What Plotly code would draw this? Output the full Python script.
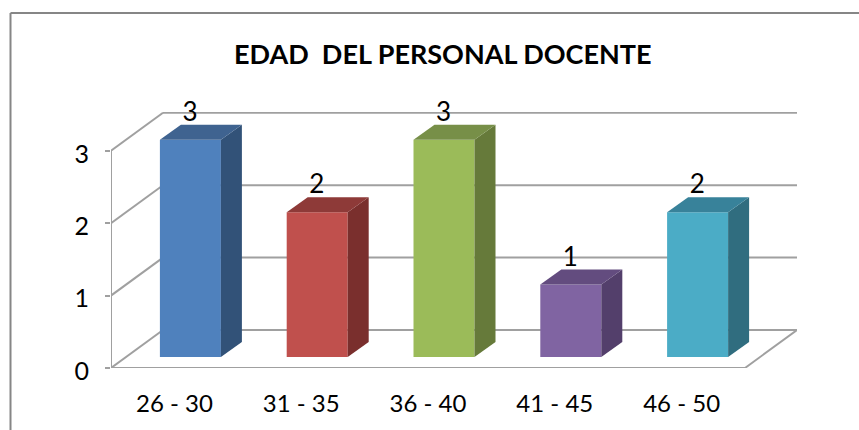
import plotly.graph_objects as go

categories = ["26 - 30", "31 - 35", "36 - 40", "41 - 45", "46 - 50"]
values = [3, 2, 3, 1, 2]
y_ticks = [0, 1, 2, 3]
front_colors = ["#4F81BD", "#C0504D", "#9BBB59", "#8064A2", "#4BACC6"]
side_colors = ["#325278", "#7A2F2D", "#667A3A", "#533F6B", "#306D7F"]
top_colors = ["#3F6390", "#8E3A38", "#778F48", "#634C7F", "#38829A"]
title_text = "EDAD \u00a0DEL PERSONAL DOCENTE"

W, H = 859, 430
PX_L, PX_R, PX_B, PX_T = 111, 797, 368, 112   # plot box in pixels
CAT_W = 126.8   # pixels per category
UNIT = 72.4     # pixels per value unit
xmin = -0.5
xmax = xmin + (PX_R - PX_L) / CAT_W
ymax = (PX_B - PX_T) / UNIT
WALL_X, WALL_Y = 52 / CAT_W, 38 / UNIT      # depth of the back wall
FACE_X, FACE_Y = 16 / CAT_W, 11 / UNIT      # front-face offset of bars
DEPTH_X, DEPTH_Y = 21 / CAT_W, 15 / UNIT    # bar depth
BAR_W = 61 / CAT_W
n = len(categories)
xend = xmin + n
FONT = "Lato, Carlito, sans-serif"
GRID = "#A0A0A0"

fig = go.Figure()

# front faces
fig.add_trace(go.Bar(
    x=[i + FACE_X for i in range(n)], y=values, base=[FACE_Y] * n, width=BAR_W,
    marker=dict(color=front_colors, line=dict(width=0)), hoverinfo="skip", showlegend=False,
))

# side and top faces
for i, v in enumerate(values):
    l = i + FACE_X - BAR_W / 2
    r = i + FACE_X + BAR_W / 2
    b = FACE_Y
    t = FACE_Y + v
    fig.add_trace(go.Scatter(
        x=[r, r + DEPTH_X, r + DEPTH_X, r, r], y=[b, b + DEPTH_Y, t + DEPTH_Y, t, b],
        mode="lines", fill="toself", fillcolor=side_colors[i], line=dict(width=0),
        hoverinfo="skip", showlegend=False,
    ))
    fig.add_trace(go.Scatter(
        x=[l, l + DEPTH_X, r + DEPTH_X, r, l], y=[t, t + DEPTH_Y, t + DEPTH_Y, t, t],
        mode="lines", fill="toself", fillcolor=top_colors[i], line=dict(width=0),
        hoverinfo="skip", showlegend=False,
    ))

# value labels
fig.add_trace(go.Scatter(
    x=[i + 0.123 for i in range(n)], y=[v + WALL_Y - 1.5 / UNIT for v in values], mode="text",
    text=[str(v) for v in values], textposition="middle center",
    textfont=dict(family=FONT, size=26, color="#000000"),
    hoverinfo="skip", showlegend=False, cliponaxis=False,
))

shapes = []
def seg(x0, y0, x1, y1):
    shapes.append(dict(type="line", xref="x", yref="y", x0=x0, y0=y0, x1=x1, y1=y1,
                       layer="below", line=dict(color=GRID, width=2)))

for t in y_ticks:
    seg(xmin, t, xmin + WALL_X, t + WALL_Y)
    seg(xmin + WALL_X, t + WALL_Y, xend + WALL_X, t + WALL_Y)
seg(xmin, 0, xmin, y_ticks[-1])
seg(xmin, 0, xend, 0)
seg(xend, 0, xend + WALL_X, WALL_Y)

# outer frame (left and top edges are visible)
for x0, y0, x1, y1 in [(10.5 / W, 0, 10.5 / W, 1 - 13 / H), (10.5 / W, 1 - 13 / H, 1, 1 - 13 / H)]:
    shapes.append(dict(type="line", xref="paper", yref="paper", x0=x0, y0=y0, x1=x1, y1=y1,
                       layer="below", line=dict(color="#868686", width=2)))

fig.update_layout(
    width=W, height=H, margin=dict(l=0, r=0, t=0, b=0, pad=0),
    paper_bgcolor="#FFFFFF", plot_bgcolor="rgba(0,0,0,0)", showlegend=False, shapes=shapes,
    font=dict(family=FONT, color="#000000"),
    xaxis=dict(domain=[PX_L / W, PX_R / W], range=[xmin, xmax], tickvals=list(range(n)), ticktext=categories,
               automargin=False, showgrid=False, zeroline=False, showline=False, ticks="", ticklabelstandoff=19,
               tickfont=dict(family=FONT, size=24, color="#000000")),
    yaxis=dict(domain=[1 - PX_B / H, 1 - PX_T / H], range=[0, ymax], tickvals=y_ticks,
               automargin=False, showgrid=False, zeroline=False, showline=False, ticks="outside", ticklen=5, tickwidth=2,
               tickcolor=GRID, ticklabelstandoff=11, ticklabelshift=3,
               tickfont=dict(family=FONT, size=25, color="#000000")),
    annotations=[
        dict(text="<b>" + title_text + "</b>", xref="paper", yref="paper",
             x=442.5 / W, y=1 - 53.5 / H, xanchor="center", yanchor="middle", showarrow=False,
             font=dict(family=FONT, size=27, color="#000000")),
    ],
)

fig.write_html("out.html", config=dict(displayModeBar=False),
               post_script="document.body.style.margin='0';document.body.style.overflow='hidden';")
